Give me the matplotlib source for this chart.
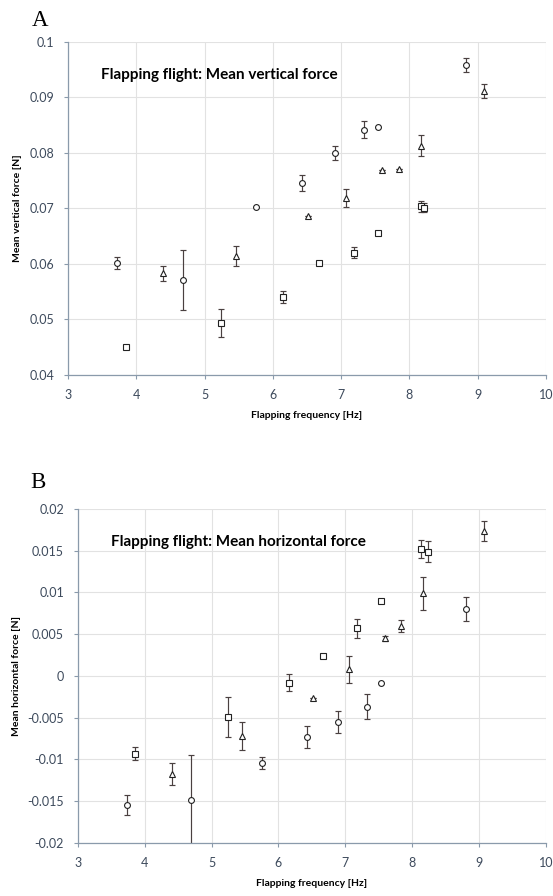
import numpy as np
import matplotlib.pyplot as plt

# Panel A: mean vertical force [N]
a_circ_f = [3.72, 4.68, 5.75, 6.43, 6.91, 7.33, 7.54, 8.83]
a_circ_v = [0.0602, 0.0571, 0.0703, 0.0746, 0.0800, 0.0842, 0.0846, 0.0958]
a_circ_e = [0.0011, 0.0054, 0.0, 0.0014, 0.0013, 0.0015, 0.0, 0.0013]

a_tri_f = [4.39, 5.46, 6.51, 7.07, 7.60, 7.85, 8.17, 9.10]
a_tri_v = [0.0583, 0.0615, 0.0686, 0.0719, 0.0769, 0.0771, 0.0813, 0.0912]
a_tri_e = [0.0013, 0.0018, 0.0, 0.0016, 0.0, 0.0, 0.0019, 0.0013]

a_sq_f = [3.85, 5.24, 6.15, 6.67, 7.19, 7.54, 8.17, 8.22]
a_sq_v = [0.0450, 0.0494, 0.0540, 0.0601, 0.0620, 0.0656, 0.0704, 0.0701]
a_sq_e = [0.0004, 0.0025, 0.0011, 0.0, 0.0010, 0.0, 0.0010, 0.0008]

# Panel B: mean horizontal force [N]
b_circ_f = [3.73, 4.69, 5.75, 6.42, 6.89, 7.33, 7.54, 8.81]
b_circ_v = [-0.0154, -0.0148, -0.0104, -0.0073, -0.0055, -0.0037, -0.0009, 0.0080]
b_circ_e = [0.0012, 0.0053, 0.0007, 0.0013, 0.0013, 0.0015, 0.0, 0.0014]

b_tri_f = [4.41, 5.45, 6.51, 7.05, 7.59, 7.84, 8.16, 9.08]
b_tri_v = [-0.0117, -0.0072, -0.0027, 0.0008, 0.0045, 0.0060, 0.0099, 0.0174]
b_tri_e = [0.0013, 0.0017, 0.0, 0.0016, 0.0003, 0.0007, 0.0020, 0.0012]

b_sq_f = [3.85, 5.24, 6.15, 6.66, 7.17, 7.54, 8.14, 8.23]
b_sq_v = [-0.0093, -0.0049, -0.0008, 0.0024, 0.0057, 0.0090, 0.0152, 0.0149]
b_sq_e = [0.0008, 0.0024, 0.0010, 0.0, 0.0011, 0.0, 0.0011, 0.0013]

x_ticks = [3, 4, 5, 6, 7, 8, 9, 10]
a_yticks = [0.04, 0.05, 0.06, 0.07, 0.08, 0.09, 0.1]
a_ylabels = ['0.04', '0.05', '0.06', '0.07', '0.08', '0.09', '0.1']
b_yticks = [-0.02, -0.015, -0.01, -0.005, 0, 0.005, 0.01, 0.015, 0.02]
b_ylabels = ['-0.02', '-0.015', '-0.01', '-0.005', '0', '0.005', '0.01', '0.015', '0.02']

tick_col = '#3d4a5c'
spine_col = '#8a9aab'
grid_col = '#e2e2e2'


def draw_panel(ax, series, yticks, ylabels, title, ylabel):
    for f, v, e, m, ms in series:
        ax.errorbar(f, v, yerr=e, fmt='none', ecolor='#4a4040', elinewidth=0.85,
                    capsize=2.2, capthick=0.85, zorder=2)
        ax.plot(f, v, linestyle='none', marker=m, markersize=ms,
                markerfacecolor='white', markeredgecolor='#222222',
                markeredgewidth=0.8, zorder=3)
    ax.set_xlim(3, 10)
    ax.set_ylim(yticks[0], yticks[-1])
    ax.set_xticks(x_ticks)
    ax.set_xticklabels([str(t) for t in x_ticks])
    ax.set_yticks(yticks)
    ax.set_yticklabels(ylabels)
    ax.grid(True, color=grid_col, linewidth=0.8)
    ax.set_axisbelow(True)
    for s in ['top', 'right']:
        ax.spines[s].set_visible(False)
    for s in ['left', 'bottom']:
        ax.spines[s].set_color(spine_col)
        ax.spines[s].set_linewidth(0.9)
    ax.tick_params(direction='out', length=3, color=spine_col,
                   labelsize=9, labelcolor=tick_col, pad=7)
    ax.set_xlabel('Flapping frequency [Hz]', fontsize=7.5, fontweight='bold',
                  labelpad=7)
    ax.set_ylabel(ylabel, fontsize=7.5, fontweight='bold', labelpad=5)
    ax.text(0.07, 0.9, title, transform=ax.transAxes, fontsize=11,
            fontweight='bold', family='Lato', va='center')


plt.rcParams['font.family'] = ['Lato', 'DejaVu Sans']

fig = plt.figure(figsize=(5.53, 8.96), dpi=100)
ax_a = fig.add_axes([0.123, 0.5815, 0.864, 0.3717])
ax_b = fig.add_axes([0.141, 0.0592, 0.846, 0.3728])

draw_panel(ax_a,
           [(a_circ_f, a_circ_v, a_circ_e, 'o', 4.2),
            (a_tri_f, a_tri_v, a_tri_e, '^', 4.2),
            (a_sq_f, a_sq_v, a_sq_e, 's', 4.0)],
           a_yticks, a_ylabels,
           'Flapping flight: Mean vertical force', 'Mean vertical force [N]')
draw_panel(ax_b,
           [(b_circ_f, b_circ_v, b_circ_e, 'o', 4.2),
            (b_tri_f, b_tri_v, b_tri_e, '^', 4.2),
            (b_sq_f, b_sq_v, b_sq_e, 's', 4.0)],
           b_yticks, b_ylabels,
           'Flapping flight: Mean horizontal force', 'Mean horizontal force [N]')

fig.text(0.057, 0.977, 'A', fontsize=16.5, family='Liberation Serif', va='center')
fig.text(0.054, 0.462, 'B', fontsize=16.5, family='Liberation Serif', va='center')

fig.savefig('out.png', dpi=100)
